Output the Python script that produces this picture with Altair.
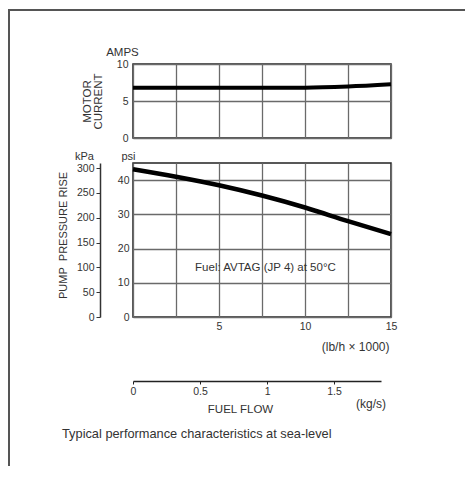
import altair as alt
import pandas as pd

# ---- data ----
flow_lb = [0, 2.5, 5, 7.5, 10, 12.5, 15]            # lb/h x 1000
motor_amps = [6.8, 6.8, 6.8, 6.8, 6.8, 6.95, 7.25]  # A
pump_psi = [43.2, 41.0, 38.5, 35.5, 32.0, 28.0, 24.2]  # psi

grid_lb = [0, 2.5, 5, 7.5, 10, 12.5, 15]
amps_ticks = [0, 5, 10]
psi_ticks = [0, 10, 20, 30, 40]
kpa_ticks = [0, 50, 100, 150, 200, 250, 300]
kgs_ticks = [0, 0.5, 1, 1.5]

note_text = "Fuel: AVTAG (JP 4) at 50°C"
note_x = [7.7]
note_y = [14.3]
caption_text = "Typical performance characteristics at sea-level"
kgs_unit_text = "(kg/s)"

PSI_TO_KPA = 6.895
PSI_MAX = 45

df = pd.DataFrame({"lb": flow_lb, "amps": motor_amps, "psi": pump_psi})
df["kpa"] = df["psi"] * PSI_TO_KPA
df_note = pd.DataFrame({"lb": note_x, "psi": note_y, "t": [note_text]})
df_one = pd.DataFrame({"k": [0]})
df_kg = pd.DataFrame({"kg": [0, 1.85]})

FONT = "Liberation Sans"
TXT = "#333333"

xscale = alt.Scale(domain=[0, 15], nice=False)

# ---------------- top panel: motor current ----------------
top_line = alt.Chart(df).mark_line(color="black", strokeWidth=4, interpolate="monotone").encode(
    x=alt.X("lb:Q", scale=xscale,
            axis=alt.Axis(values=grid_lb, labels=False, ticks=False, domain=False, grid=True, title=None)),
    y=alt.Y("amps:Q", scale=alt.Scale(domain=[0, 10], nice=False),
            axis=alt.Axis(values=amps_ticks, orient="left", title="AMPS", titleAngle=0, titleX=-11,
                          titleY=-12, titleAlign="center", titleBaseline="middle", ticks=False,
                          domain=False, labelPadding=5, grid=True, titleFontSize=11.5)),
)
top_title = alt.Chart(df).mark_line(opacity=0).encode(
    x=alt.X("lb:Q", scale=xscale),
    y=alt.Y("amps:Q", scale=alt.Scale(domain=[0, 10], nice=False),
            axis=alt.Axis(orient="left", title=["MOTOR", "CURRENT"], labels=False, ticks=False,
                          domain=False, grid=False, titleX=-46, titleY=37, titleAngle=270,
                          titleAlign="center", titleBaseline="middle", titleLineHeight=11,
                          titleFontSize=11.5)),
)
top = alt.layer(top_line, top_title).resolve_scale(y="independent").properties(width=258, height=74)

# ---------------- middle panel: pump pressure rise ----------------
psi_scale = alt.Scale(domain=[0, PSI_MAX], nice=False)
mid_line = alt.Chart(df).mark_line(color="black", strokeWidth=4.5, interpolate="monotone").encode(
    x=alt.X("lb:Q", scale=xscale,
            axis=alt.Axis(values=grid_lb,
                          labelExpr="(datum.value % 5 == 0 && datum.value > 0) ? datum.label : ''",
                          ticks=False, domain=False, grid=True, labelFlush=False, labelPadding=4,
                          title="(lb/h × 1000)", titleX=256, titleY=29, titleAlign="right",
                          titleBaseline="middle", titleFontSize=12)),
    y=alt.Y("psi:Q", scale=psi_scale,
            axis=alt.Axis(values=psi_ticks, orient="left", title="psi", titleAngle=0, titleX=-5,
                          titleY=-7, titleAlign="center", titleBaseline="middle", ticks=False,
                          domain=False, labelPadding=4, grid=True, titleFontSize=11)),
)
mid_kpa = alt.Chart(df).mark_line(opacity=0).encode(
    x=alt.X("lb:Q", scale=xscale),
    y=alt.Y("kpa:Q", scale=alt.Scale(domain=[0, PSI_MAX * PSI_TO_KPA], nice=False),
            axis=alt.Axis(values=kpa_ticks, orient="left", offset=33, title="kPa", titleAngle=0,
                          titleX=-16, titleY=-7, titleAlign="center", titleBaseline="middle",
                          ticks=True, tickSize=4, tickColor="#333333", domain=True,
                          domainColor="#333333", domainWidth=1.5, grid=False, labelPadding=2,
                          titleFontSize=11)),
)
mid_note = alt.Chart(df_note).mark_text(font=FONT, fontSize=11.5, color=TXT).encode(
    x=alt.X("lb:Q", scale=xscale),
    y=alt.Y("psi:Q", scale=psi_scale,
            axis=alt.Axis(orient="left", title="PUMP\u00a0\u00a0PRESSURE RISE", labels=False,
                          ticks=False, domain=False, grid=False, titleX=-70, titleY=72,
                          titleAngle=270, titleAlign="center", titleBaseline="middle",
                          titleFontSize=11)),
    text="t:N",
)
mid = alt.layer(mid_line, mid_kpa, mid_note).resolve_scale(y="independent").properties(
    width=258, height=154)

# ---------------- bottom axis: kg/s, caption, frame ----------------
kg_axis = alt.Chart(df_kg).mark_point(opacity=0).encode(
    x=alt.X("kg:Q", scale=alt.Scale(domain=[0, 1.85], nice=False),
            axis=alt.Axis(values=kgs_ticks, format="~g", orient="bottom", title="FUEL FLOW",
                          titleX=107, titleY=28, titleAlign="center", titleBaseline="middle",
                          ticks=True, tickSize=3, tickColor="#222222", domain=True,
                          domainColor="#222222", domainWidth=1.5, grid=False, labelFlush=False,
                          labelPadding=2, titleFontSize=11.5)),
)
kg_unit = alt.Chart(df_one).mark_text(font=FONT, fontSize=12, color=TXT).encode(
    x=alt.value(238), y=alt.value(62), text=alt.value(kgs_unit_text))
caption = alt.Chart(df_one).mark_text(font=FONT, fontSize=12.8, color=TXT, align="left").encode(
    x=alt.value(-71), y=alt.value(92), text=alt.value(caption_text))
frame_top = alt.Chart(df_one).mark_rule(color="#555555", strokeWidth=2).encode(
    x=alt.value(-124), x2=alt.value(332), y=alt.value(-332))
frame_left = alt.Chart(df_one).mark_rule(color="#555555", strokeWidth=2).encode(
    x=alt.value(-124), y=alt.value(-333), y2=alt.value(124))

kgs = alt.layer(kg_axis, kg_unit, caption, frame_top, frame_left).properties(
    width=248, height=39, view=alt.ViewBackground(stroke=None))

chart = alt.vconcat(top, mid, kgs, spacing=25, bounds="flush").properties(
    padding=0
).configure(font=FONT).configure_view(
    stroke="#222222", strokeWidth=1.5
).configure_axis(
    labelFont=FONT, labelFontSize=10.5, labelColor=TXT,
    titleFont=FONT, titleFontSize=11, titleColor=TXT, titleFontWeight="normal",
    gridColor="#6a6a6a", gridWidth=1.3, gridOpacity=1,
)

chart.save("out.html", embed_options={"renderer": "svg", "actions": False})
